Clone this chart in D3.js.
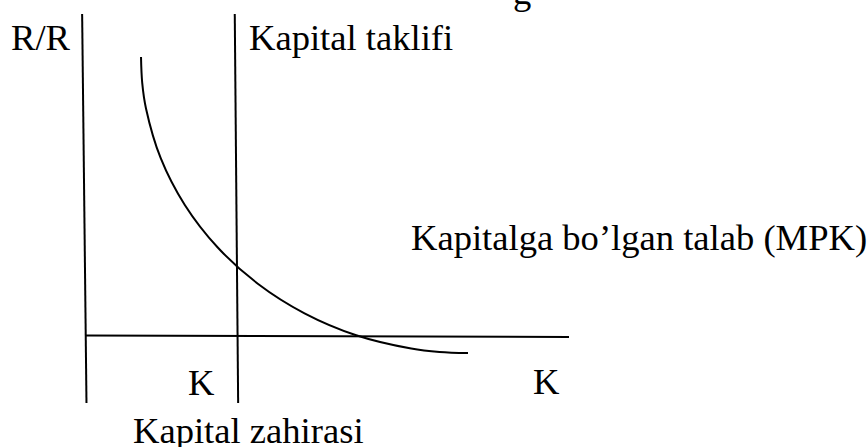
<!DOCTYPE html>
<html>
<head>
<meta charset="utf-8">
<script src="https://cdn.jsdelivr.net/npm/d3@7"></script>
<style>
  html, body { margin: 0; padding: 0; background: #fff; }
  svg { display: block; }
</style>
</head>
<body>
<svg id="chart" width="868" height="447"></svg>
<script>
// Demand for capital (MPK): capital stock K vs. rental rate R/R
const demandK = [11.39, 11.64, 12.42, 15.47, 20.46, 27.23, 35.57, 45.24, 55.94, 67.33, 73.19, 79.09];
const demandR = [86.65, 78.63, 70.68, 55.22, 40.68, 27.55, 16.24, 7.05, 0.25, -3.88, -4.94, -5.28];

// Fixed capital supply (vertical line) — endpoints [K, R]
const supplyLine = [[30.8, 100], [31.5, -20.8]];
// Axes as hand-drawn lines — endpoints [K, R]
const yAxisLine = [[-0.8, 100], [0.1, -20.8]];
const xAxisLine = [[0, 0.15], [100, -0.3]];

// Labels
const labels = {
  yAxis: "R/R",
  supply: "Kapital taklifi",
  demand: "Kapitalga bo\u2019lgan talab (MPK)",
  kStock: "K",
  kAxis: "K",
  stockName: "Kapital zahirasi",
  cutTitle: "g"
};

const FONT = "'Liberation Serif', Tinos, 'Times New Roman', 'DejaVu Serif', serif";

const svg = d3.select("#chart");

const x = d3.scaleLinear().domain([0, 100]).range([86, 569]);
const y = d3.scaleLinear().domain([0, 100]).range([336, 14]);

const line = d3.line().x(d => x(d[0])).y(d => y(d[1]));

const strokeStyle = sel => sel.attr("fill", "none").attr("stroke", "#000").attr("stroke-width", 2);

svg.append("path").datum(yAxisLine).attr("d", line).call(strokeStyle);
svg.append("path").datum(xAxisLine).attr("d", line).call(strokeStyle);
svg.append("path").datum(supplyLine).attr("d", line).call(strokeStyle);

const demand = demandK.map((k, i) => [k, demandR[i]]);
svg.append("path")
  .datum(demand)
  .attr("d", d3.line().x(d => x(d[0])).y(d => y(d[1])).curve(d3.curveCatmullRom.alpha(0.5)))
  .call(strokeStyle);

// Text labels
const addText = (tx, ty, str) => svg.append("text")
  .attr("x", tx).attr("y", ty)
  .attr("font-family", FONT)
  .attr("font-size", 36.6)
  .attr("fill", "#000")
  .text(str);

addText(513, 4, labels.cutTitle);
addText(11, 50, labels.yAxis);
addText(249, 50, labels.supply);
addText(411, 250, labels.demand);
addText(188, 395, labels.kStock);
addText(533, 394, labels.kAxis);
addText(133, 443, labels.stockName);
</script>
</body>
</html>
